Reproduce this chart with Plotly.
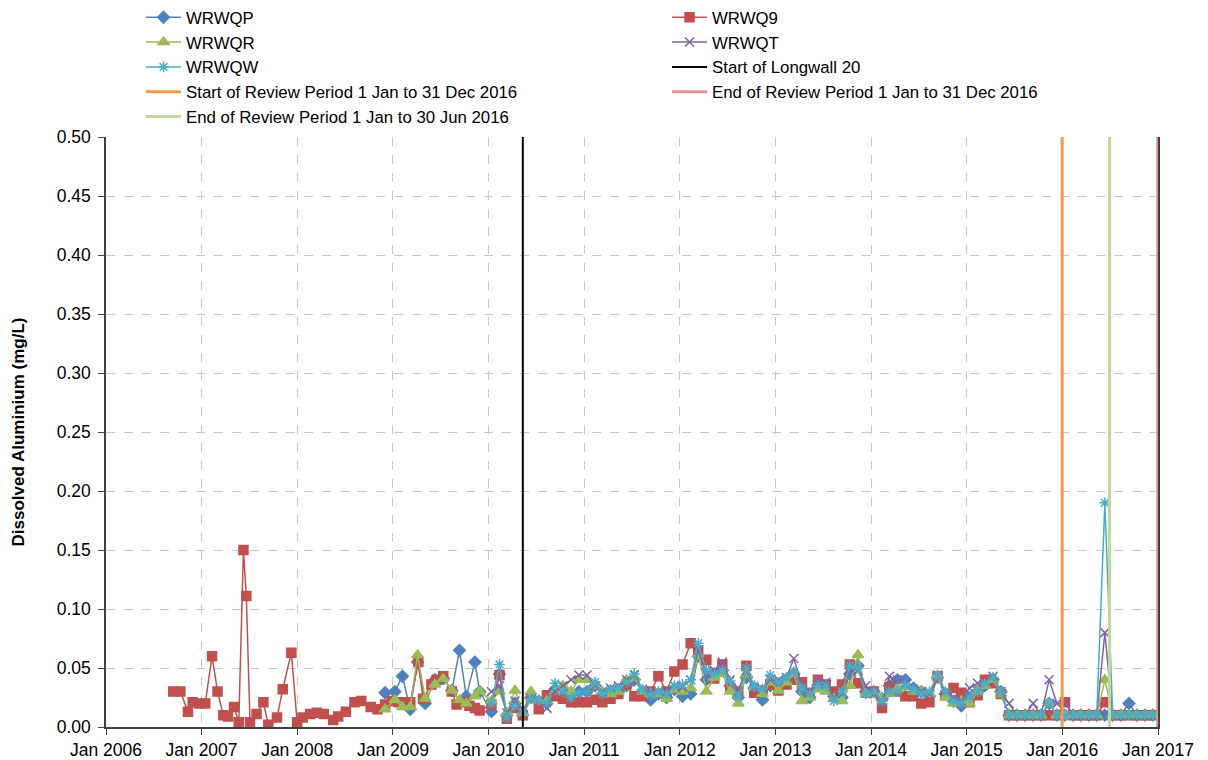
import plotly.graph_objects as go

# ---------------- data ----------------
months_2010_2016 = [f"{y}-{m:02d}-12" for y in range(2010, 2017) for m in range(1, 13)]

q9_dates_early = [
    "2006-09-15", "2006-10-12", "2006-11-10", "2006-11-28", "2006-12-24", "2007-01-15",
    "2007-02-10", "2007-03-03", "2007-03-25", "2007-04-12", "2007-05-05", "2007-05-23",
    "2007-06-10", "2007-06-21", "2007-07-05", "2007-07-30", "2007-08-25", "2007-09-13",
    "2007-10-16", "2007-11-07", "2007-12-10", "2008-01-01", "2008-01-22", "2008-02-20",
    "2008-03-17", "2008-04-12", "2008-05-18", "2008-06-06", "2008-07-05", "2008-08-07",
    "2008-09-02", "2008-10-08", "2008-11-03", "2008-12-02", "2008-12-28", "2009-01-22",
    "2009-02-10", "2009-03-08", "2009-04-08", "2009-04-26", "2009-05-28", "2009-06-17",
    "2009-07-12", "2009-08-14", "2009-09-01", "2009-10-01", "2009-10-20", "2009-11-10",
    "2009-11-28",
]
q9_vals_early = [
    0.030, 0.030, 0.013, 0.021, 0.020, 0.020,
    0.060, 0.030, 0.010, 0.009, 0.017, 0.004,
    0.150, 0.111, 0.004, 0.011, 0.021, 0.002,
    0.008, 0.032, 0.063, 0.004, 0.008, 0.011,
    0.012, 0.011, 0.006, 0.009, 0.013, 0.021,
    0.022, 0.017, 0.015, 0.019, 0.022, 0.021,
    0.021, 0.021, 0.055, 0.024, 0.036, 0.040,
    0.043, 0.030, 0.019, 0.021, 0.018, 0.016,
    0.014,
]
q9_vals_late = [
    0.019, 0.044, 0.007, 0.016, 0.010, 0.025, 0.015, 0.027, 0.026, 0.024, 0.021, 0.021,
    0.021, 0.023, 0.021, 0.024, 0.028, 0.036, 0.026, 0.026, 0.030, 0.043, 0.030, 0.047,
    0.053, 0.071, 0.065, 0.057, 0.041, 0.053, 0.033, 0.030, 0.052, 0.029, 0.031, 0.036,
    0.031, 0.036, 0.040, 0.038, 0.029, 0.040, 0.036, 0.030, 0.036, 0.053, 0.037, 0.029,
    0.030, 0.016, 0.034, 0.030, 0.026, 0.026, 0.020, 0.021, 0.043, 0.027, 0.033, 0.029,
    0.021, 0.027, 0.040, 0.037, 0.028, 0.010, 0.010, 0.010, 0.010, 0.010, 0.010, 0.010,
    0.021, 0.010, 0.010, 0.010, 0.010, 0.021, 0.010, 0.010, 0.010, 0.010, 0.010, 0.010,
]

pr_dates_2009 = [
    "2008-12-02", "2009-01-08", "2009-02-06", "2009-03-08", "2009-04-05", "2009-05-04",
    "2009-06-10", "2009-07-12", "2009-08-14", "2009-09-12", "2009-10-08", "2009-11-10",
    "2009-11-28",
]
p_vals_2009 = [0.029, 0.030, 0.043, 0.015, 0.055, 0.020, 0.040, 0.041, 0.031, 0.065, 0.026, 0.055, 0.030]
r_vals_2009 = [0.015, 0.023, 0.017, 0.017, 0.061, 0.024, 0.036, 0.041, 0.031, 0.023, 0.020, 0.026, 0.030]

p_vals_late = [
    0.013, 0.045, 0.010, 0.020, 0.010, 0.025, 0.022, 0.020, 0.032, 0.030, 0.028, 0.030,
    0.030, 0.035, 0.028, 0.030, 0.030, 0.035, 0.040, 0.030, 0.023, 0.028, 0.025, 0.032,
    0.026, 0.028, 0.060, 0.040, 0.045, 0.048, 0.035, 0.025, 0.042, 0.033, 0.023, 0.035,
    0.035, 0.040, 0.045, 0.030, 0.025, 0.035, 0.033, 0.026, 0.025, 0.045, 0.052, 0.030,
    0.030, 0.024, 0.035, 0.040, 0.040, 0.033, 0.030, 0.026, 0.042, 0.028, 0.022, 0.018,
    0.025, 0.030, 0.035, 0.040, 0.030, 0.010, 0.010, 0.010, 0.010, 0.010, 0.020, 0.010,
    0.010, 0.010, 0.010, 0.010, 0.010, 0.010, 0.010, 0.010, 0.020, 0.010, 0.010, 0.010,
]
r_vals_late = [
    0.022, 0.030, 0.012, 0.031, 0.012, 0.030, 0.022, 0.022, 0.030, 0.035, 0.030, 0.040,
    0.040, 0.035, 0.030, 0.028, 0.030, 0.040, 0.042, 0.030, 0.028, 0.028, 0.024, 0.032,
    0.030, 0.033, 0.062, 0.030, 0.042, 0.045, 0.030, 0.020, 0.045, 0.033, 0.028, 0.038,
    0.031, 0.038, 0.045, 0.022, 0.025, 0.032, 0.030, 0.024, 0.022, 0.035, 0.061, 0.028,
    0.028, 0.024, 0.028, 0.032, 0.034, 0.030, 0.030, 0.028, 0.043, 0.025, 0.020, 0.022,
    0.020, 0.030, 0.035, 0.040, 0.028, 0.010, 0.010, 0.010, 0.010, 0.010, 0.020, 0.010,
    0.010, 0.010, 0.010, 0.010, 0.010, 0.040, 0.010, 0.010, 0.010, 0.010, 0.010, 0.010,
]
t_vals_late = [
    0.030, 0.035, 0.012, 0.022, 0.015, 0.024, 0.022, 0.016, 0.030, 0.035, 0.040, 0.044,
    0.044, 0.035, 0.030, 0.033, 0.035, 0.040, 0.044, 0.032, 0.030, 0.030, 0.030, 0.035,
    0.034, 0.040, 0.065, 0.045, 0.048, 0.055, 0.040, 0.030, 0.048, 0.033, 0.032, 0.040,
    0.040, 0.042, 0.058, 0.035, 0.030, 0.040, 0.038, 0.025, 0.030, 0.050, 0.048, 0.035,
    0.028, 0.020, 0.043, 0.040, 0.036, 0.032, 0.030, 0.028, 0.044, 0.030, 0.025, 0.022,
    0.033, 0.037, 0.037, 0.043, 0.030, 0.020, 0.010, 0.010, 0.020, 0.010, 0.040, 0.020,
    0.020, 0.010, 0.010, 0.010, 0.010, 0.080, 0.010, 0.010, 0.010, 0.010, 0.010, 0.010,
]
w_vals_late = [
    0.020, 0.053, 0.008, 0.018, 0.012, 0.024, 0.023, 0.020, 0.037, 0.030, 0.025, 0.029,
    0.030, 0.038, 0.028, 0.032, 0.033, 0.038, 0.045, 0.032, 0.027, 0.030, 0.028, 0.035,
    0.036, 0.040, 0.071, 0.048, 0.045, 0.048, 0.039, 0.026, 0.050, 0.035, 0.032, 0.044,
    0.038, 0.042, 0.047, 0.033, 0.028, 0.035, 0.035, 0.022, 0.030, 0.052, 0.050, 0.028,
    0.030, 0.022, 0.030, 0.030, 0.035, 0.032, 0.028, 0.030, 0.044, 0.030, 0.022, 0.020,
    0.025, 0.030, 0.037, 0.042, 0.030, 0.010, 0.010, 0.010, 0.010, 0.010, 0.020, 0.010,
    0.010, 0.010, 0.010, 0.010, 0.010, 0.190, 0.010, 0.010, 0.010, 0.010, 0.010, 0.010,
]

event_names = [
    "Start of Longwall 20",
    "Start of Review Period 1 Jan to 31 Dec 2016",
    "End of Review Period 1 Jan to 31 Dec 2016",
    "End of Review Period 1 Jan to 30 Jun 2016",
]
event_dates = ["2010-05-12", "2016-01-01", "2016-12-31", "2016-06-30"]
event_colors = ["#000000", "#F79646", "#D99694", "#C3D69B"]
event_widths = [2, 3, 3, 3]

y_range = [0, 0.5]

# ---------------- figure ----------------
fig = go.Figure()

# (name, x, y, colour, symbol, size, legend column, rank)
series = [
    ("WRWQP", pr_dates_2009 + months_2010_2016, p_vals_2009 + p_vals_late, "#4F81BD", "diamond", 9, "legend", 1),
    ("WRWQ9", q9_dates_early + months_2010_2016, q9_vals_early + q9_vals_late, "#C0504D", "square", 9, "legend2", 1),
    ("WRWQR", pr_dates_2009 + months_2010_2016, r_vals_2009 + r_vals_late, "#9BBB59", "triangle-up", 10, "legend", 2),
    ("WRWQT", months_2010_2016, t_vals_late, "#8064A2", "x-thin-open", 9, "legend2", 2),
    ("WRWQW", months_2010_2016, w_vals_late, "#4BACC6", "asterisk-open", 9, "legend", 3),
]
for name, xs, ys, col, sym, sz, lg, rk in series:
    fig.add_trace(go.Scatter(
        x=xs, y=ys, name=name, mode="lines+markers",
        line=dict(color=col, width=1.5),
        marker=dict(symbol=sym, size=sz, color=col, line=dict(color=col, width=1.5)),
        legend=lg, legendrank=rk,
    ))

event_legend = ["legend2", "legend", "legend2", "legend"]
event_rank = [3, 4, 4, 5]
for nm, d, c, w, lg, rk in zip(event_names, event_dates, event_colors, event_widths, event_legend, event_rank):
    fig.add_trace(go.Scatter(
        x=[d, d], y=y_range, name=nm, mode="lines",
        line=dict(color=c, width=w), legend=lg, legendrank=rk,
    ))

leg_common = dict(
    orientation="v", yanchor="top", xanchor="left",
    font=dict(size=16.8, family="Liberation Sans, Arial, sans-serif"),
    itemwidth=35, tracegroupgap=0, bgcolor="rgba(0,0,0,0)",
    yref="paper", xref="paper",
)

# the page adds an 8px body margin; size and margins compensate for it
fig.update_layout(
    width=1200, height=752,
    margin=dict(l=98, r=50, t=129, b=33, autoexpand=False),
    paper_bgcolor="white", plot_bgcolor="white",
    font=dict(family="Liberation Sans, Arial, sans-serif", size=17, color="#000000"),
    showlegend=True,
    legend=dict(x=0.0333, y=1.2325, **leg_common),
    legend2=dict(x=0.5333, y=1.2325, **leg_common),
    xaxis=dict(
        type="date", range=["2006-01-01", "2017-01-01"],
        tick0="2006-01-01", dtick="M12", tickformat="%b %Y",
        showgrid=True, gridcolor="#c8c8c8", griddash="dash", gridwidth=1,
        showline=True, linecolor="#404040", linewidth=1.5,
        ticks="outside", ticklen=6, tickcolor="#404040",
        tickfont=dict(size=17.5), zeroline=False,
    ),
    yaxis=dict(
        range=y_range, dtick=0.05, tickformat=".2f",
        showgrid=True, gridcolor="#c8c8c8", griddash="dash", gridwidth=1,
        showline=True, linecolor="#404040", linewidth=1.5, mirror=True,
        ticks="outside", ticklen=6, tickcolor="#404040",
        tickfont=dict(size=17.5), zeroline=False, ticklabelstandoff=4,
        title=dict(text="<b>Dissolved Aluminium (mg/L)</b>", font=dict(size=17), standoff=28),
    ),
)

fig.write_html("out.html")
